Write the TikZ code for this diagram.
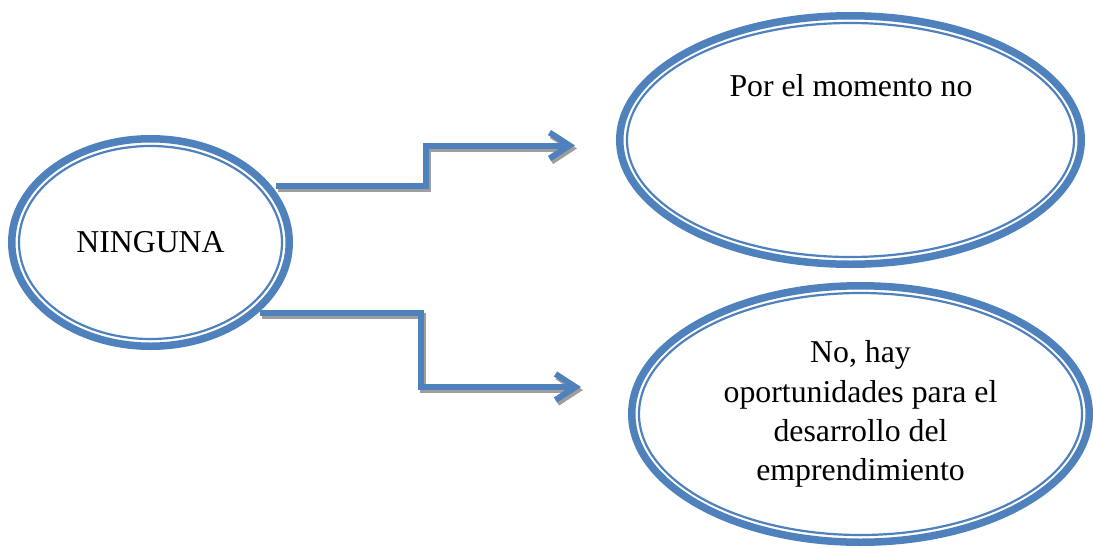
\documentclass[tikz,border=0pt]{standalone}
\usepackage{fontspec}
\setmainfont{Liberation Serif}
\usetikzlibrary{arrows.meta,calc,shapes.geometric}
\definecolor{ovalblue}{HTML}{4F81BD}
\definecolor{shadowgray}{HTML}{9E9E9E}
\tikzset{
  oval/.style={ellipse, draw=ovalblue, line width=7.5pt, inner sep=0pt, fill=white,
    font=\fontsize{31.8}{39.3}\selectfont, align=center},
  innerline/.style={draw=ovalblue, line width=2.2pt},
  conn/.style={draw=ovalblue, line width=6pt,
    -{Straight Barb[length=20pt,width=26pt]}},
  connshadow/.style={conn, draw=shadowgray},
  label/.style={font=\fontsize{31.8}{39.3}\selectfont, align=center, inner sep=0pt}
}
\begin{document}
\begin{tikzpicture}[x=1pt,y=-1pt]
\useasboundingbox (0,0) rectangle (1093,547);

% the three ovals with their thin inner rings
\node[oval, minimum width=277.5pt, minimum height=207.5pt] (L) at (150.5,242.5) {NINGUNA};
\draw[innerline] (L.center) ellipse [x radius=131.5pt, y radius=96.5pt];

\node[oval, minimum width=461.5pt, minimum height=248.5pt] (TR) at (850.5,140) {};
\draw[innerline] (TR.center) ellipse [x radius=223.5pt, y radius=117pt];
\node[label] (TRtext) at (851,86) {Por el momento no};

\node[oval, minimum width=457.5pt, minimum height=256.5pt] (BR) at (860.5,414)
  {No, hay\\oportunidades para el\\desarrollo del\\emprendimiento};
\draw[innerline] (BR.center) ellipse [x radius=221.5pt, y radius=121pt];

% elbow connectors
\coordinate (m1) at (425.5,145.5);
\coordinate (t1) at (575,145.5);
\coordinate (m2) at (421,387);
\coordinate (t2) at (581,387);

% drop shadows, shifted down and right
\begin{scope}[transform canvas={shift={(2pt,-3pt)}}]
  \draw[connshadow] ($(L.center)+(125.5,-56.5)$) -| (m1) -- (t1);
  \draw[connshadow] ($(L.center)+(109.5,70)$) -| (m2) -- (t2);
\end{scope}

\draw[conn] ($(L.center)+(125.5,-56.5)$) -| (m1) -- (t1);
\draw[conn] ($(L.center)+(109.5,70)$) -| (m2) -- (t2);
\end{tikzpicture}
\end{document}
